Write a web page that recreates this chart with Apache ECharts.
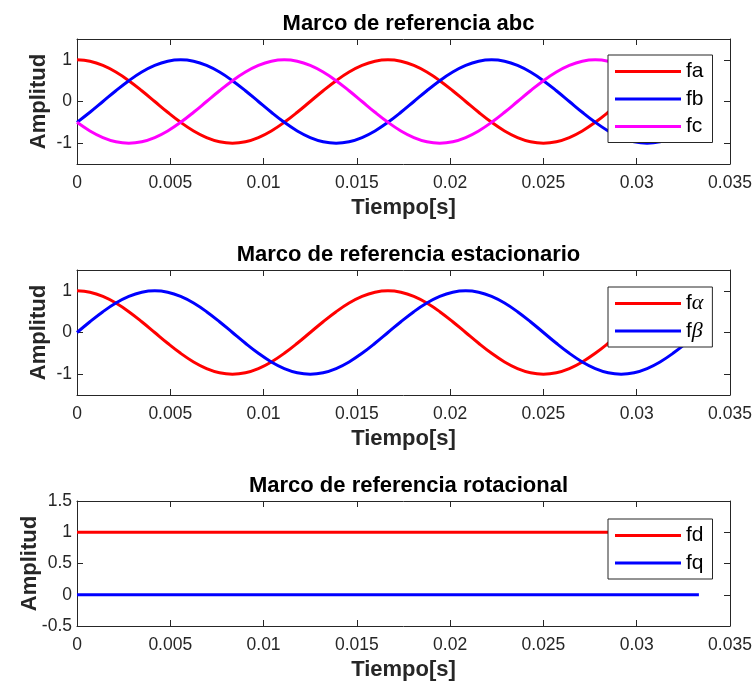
<!DOCTYPE html>
<html>
<head>
<meta charset="utf-8">
<script src="https://cdn.jsdelivr.net/npm/echarts@6/dist/echarts.min.js"></script>
<style>html,body{margin:0;padding:0;background:#fff}#c{width:756px;height:688px}</style>
</head>
<body>
<div id="c"></div>
<script>
// ---- data ----
const titles = ['Marco de referencia abc', 'Marco de referencia estacionario', 'Marco de referencia rotacional'];
const xTickValues = [0, 0.005, 0.01, 0.015, 0.02, 0.025, 0.03, 0.035];
const xTickLabels = ['0', '0.005', '0.01', '0.015', '0.02', '0.025', '0.03', '0.035'];
const yTickValues1 = [-1, 0, 1];
const yTickLabels1 = ['-1', '0', '1'];
const yTickValues3 = [-0.5, 0, 0.5, 1, 1.5];
const yTickLabels3 = ['-0.5', '0', '0.5', '1', '1.5'];

const t = [0, 0.000694, 0.001389, 0.002083, 0.002778, 0.003472, 0.004167, 0.004861, 0.005556, 0.00625,
  0.006944, 0.007639, 0.008333, 0.009028, 0.009722, 0.010417, 0.011111, 0.011806, 0.0125, 0.013194,
  0.013889, 0.014583, 0.015278, 0.015972, 0.016667, 0.017361, 0.018056, 0.01875, 0.019444, 0.020139,
  0.020833, 0.021528, 0.022222, 0.022917, 0.023611, 0.024306, 0.025, 0.025694, 0.026389, 0.027083,
  0.027778, 0.028472, 0.029167, 0.029861, 0.030556, 0.03125, 0.031944, 0.032639, 0.033333];

const fa = [1, .966, .866, .707, .5, .259, 0, -.259, -.5, -.707, -.866, -.966, -1, -.966, -.866, -.707, -.5, -.259, 0, .259, .5, .707, .866, .966, 1,
  .966, .866, .707, .5, .259, 0, -.259, -.5, -.707, -.866, -.966, -1, -.966, -.866, -.707, -.5, -.259, 0, .259, .5, .707, .866, .966, 1];
const fb = [-.5, -.259, 0, .259, .5, .707, .866, .966, 1, .966, .866, .707, .5, .259, 0, -.259, -.5, -.707, -.866, -.966, -1, -.966, -.866, -.707, -.5,
  -.259, 0, .259, .5, .707, .866, .966, 1, .966, .866, .707, .5, .259, 0, -.259, -.5, -.707, -.866, -.966, -1, -.966, -.866, -.707, -.5];
const fc = [-.5, -.707, -.866, -.966, -1, -.966, -.866, -.707, -.5, -.259, 0, .259, .5, .707, .866, .966, 1, .966, .866, .707, .5, .259, 0, -.259, -.5,
  -.707, -.866, -.966, -1, -.966, -.866, -.707, -.5, -.259, 0, .259, .5, .707, .866, .966, 1, .966, .866, .707, .5, .259, 0, -.259, -.5];
const falpha = [1, .966, .866, .707, .5, .259, 0, -.259, -.5, -.707, -.866, -.966, -1, -.966, -.866, -.707, -.5, -.259, 0, .259, .5, .707, .866, .966, 1,
  .966, .866, .707, .5, .259, 0, -.259, -.5, -.707, -.866, -.966, -1, -.966, -.866, -.707, -.5, -.259, 0, .259, .5, .707, .866, .966, 1];
const fbeta = [0, .259, .5, .707, .866, .966, 1, .966, .866, .707, .5, .259, 0, -.259, -.5, -.707, -.866, -.966, -1, -.966, -.866, -.707, -.5, -.259, 0,
  .259, .5, .707, .866, .966, 1, .966, .866, .707, .5, .259, 0, -.259, -.5, -.707, -.866, -.966, -1, -.966, -.866, -.707, -.5, -.259, 0];
const tdq = [0, 0.033333];
const fd = [1, 1];
const fq = [0, 0];

// ---- styling / layout ----
const FONT = '"Liberation Sans", Arial, Helvetica, sans-serif';
const AX = '#262626';
const RED = '#ff0000', BLUE = '#0000ff', MAG = '#ff00ff';
const gridTops = [39, 270, 501];
const G = {left: 77, width: 653, height: 125};

const pairs = (xs, ys) => xs.map((x, i) => [x, ys[i]]);
const labelOf = (vals, labs) => v => {
  let best = 0;
  vals.forEach((x, i) => { if (Math.abs(x - v) < Math.abs(vals[best] - v)) best = i; });
  return labs[best];
};

function xAxisDef(gi, pos) {
  const bottom = pos === 'bottom';
  return {
    type: 'value', gridIndex: gi, position: pos, min: 0, max: 0.035, interval: 0.005,
    name: bottom ? 'Tiempo[s]' : '', nameLocation: 'middle', nameGap: 33, nameMoveOverlap: false,
    nameTextStyle: {fontFamily: FONT, fontSize: 22, fontWeight: 'bold', color: AX},
    axisLine: {show: true, onZero: false, lineStyle: {color: AX, width: 1}},
    axisTick: {show: true, inside: true, length: 6, lineStyle: {color: AX}},
    axisLabel: {show: bottom, margin: 10, fontFamily: FONT, fontSize: 17.5, color: AX,
      formatter: labelOf(xTickValues, xTickLabels)},
    splitLine: {show: false}
  };
}
function yAxisDef(gi, pos, min, max, vals, labs, gap) {
  const left = pos === 'left';
  return {
    type: 'value', gridIndex: gi, position: pos, min: min, max: max,
    name: left ? 'Amplitud' : '', nameLocation: 'middle', nameGap: gap, nameMoveOverlap: false,
    nameTextStyle: {fontFamily: FONT, fontSize: 22, fontWeight: 'bold', color: AX},
    axisLine: {show: true, onZero: false, lineStyle: {color: AX, width: 1}},
    axisTick: {show: true, inside: true, length: 6, lineStyle: {color: AX}, customValues: vals},
    axisLabel: {show: left, margin: 5, fontFamily: FONT, fontSize: 17.5, color: AX,
      customValues: vals, formatter: labelOf(vals, labs)},
    splitLine: {show: false}
  };
}
function lineSeries(name, data, color, xi, yi) {
  return {
    name: name, type: 'line', xAxisIndex: xi, yAxisIndex: yi, data: data,
    smooth: 0.4, symbol: 'none', showSymbol: false,
    lineStyle: {color: color, width: 3}, itemStyle: {color: color}, z: 2, animation: false
  };
}
function legendDef(names, top) {
  return {
    data: names, orient: 'vertical', left: 608, top: top,
    padding: [5.5, 9, 5, 7], itemGap: 5.5, itemWidth: 66, itemHeight: 3, icon: 'rect',
    backgroundColor: '#fff', borderColor: AX, borderWidth: 1, borderRadius: 0,
    selectedMode: false,
    textStyle: {fontFamily: FONT, fontSize: 21, color: '#000', lineHeight: 22,
      rich: {n: {fontFamily: FONT, fontSize: 21, color: '#000', lineHeight: 22},
             g: {fontFamily: '"Liberation Serif", "DejaVu Serif", serif', fontStyle: 'italic', fontSize: 22, color: '#000', lineHeight: 22}}},
    formatter: name => {
      const m = name.match(/^f([αβ])$/);
      return m ? '{n|f}{g|' + m[1] + '}' : '{n|' + name + '}';
    }
  };
}

const option = {
  backgroundColor: '#fff',
  animation: false,
  title: titles.map((tx, i) => ({
    text: tx, left: G.left + G.width / 2, top: gridTops[i] - 31, textAlign: 'center',
    textStyle: {fontFamily: FONT, fontSize: 22, fontWeight: 'bold', color: '#000'}
  })),
  grid: gridTops.map(tp => ({left: G.left, top: tp, width: G.width, height: G.height, containLabel: false})),
  xAxis: [0, 1, 2].flatMap(gi => [xAxisDef(gi, 'bottom'), xAxisDef(gi, 'top')]),
  yAxis: [
    yAxisDef(0, 'left', -1.5, 1.5, yTickValues1, yTickLabels1, 27.5), yAxisDef(0, 'right', -1.5, 1.5, yTickValues1, yTickLabels1, 0),
    yAxisDef(1, 'left', -1.5, 1.5, yTickValues1, yTickLabels1, 27.5), yAxisDef(1, 'right', -1.5, 1.5, yTickValues1, yTickLabels1, 0),
    yAxisDef(2, 'left', -0.5, 1.5, yTickValues3, yTickLabels3, 36.5), yAxisDef(2, 'right', -0.5, 1.5, yTickValues3, yTickLabels3, 0)
  ],
  legend: [legendDef(['fa', 'fb', 'fc'], 55), legendDef(['fα', 'fβ'], 287), legendDef(['fd', 'fq'], 519)],
  series: [
    lineSeries('fa', pairs(t, fa), RED, 0, 0),
    lineSeries('fb', pairs(t, fb), BLUE, 0, 0),
    lineSeries('fc', pairs(t, fc), MAG, 0, 0),
    lineSeries('fα', pairs(t, falpha), RED, 2, 2),
    lineSeries('fβ', pairs(t, fbeta), BLUE, 2, 2),
    lineSeries('fd', pairs(tdq, fd), RED, 4, 4),
    lineSeries('fq', pairs(tdq, fq), BLUE, 4, 4)
  ]
};
const chart = echarts.init(document.getElementById('c'), null, {renderer: 'canvas'});
chart.setOption(option);
</script>
</body>
</html>
